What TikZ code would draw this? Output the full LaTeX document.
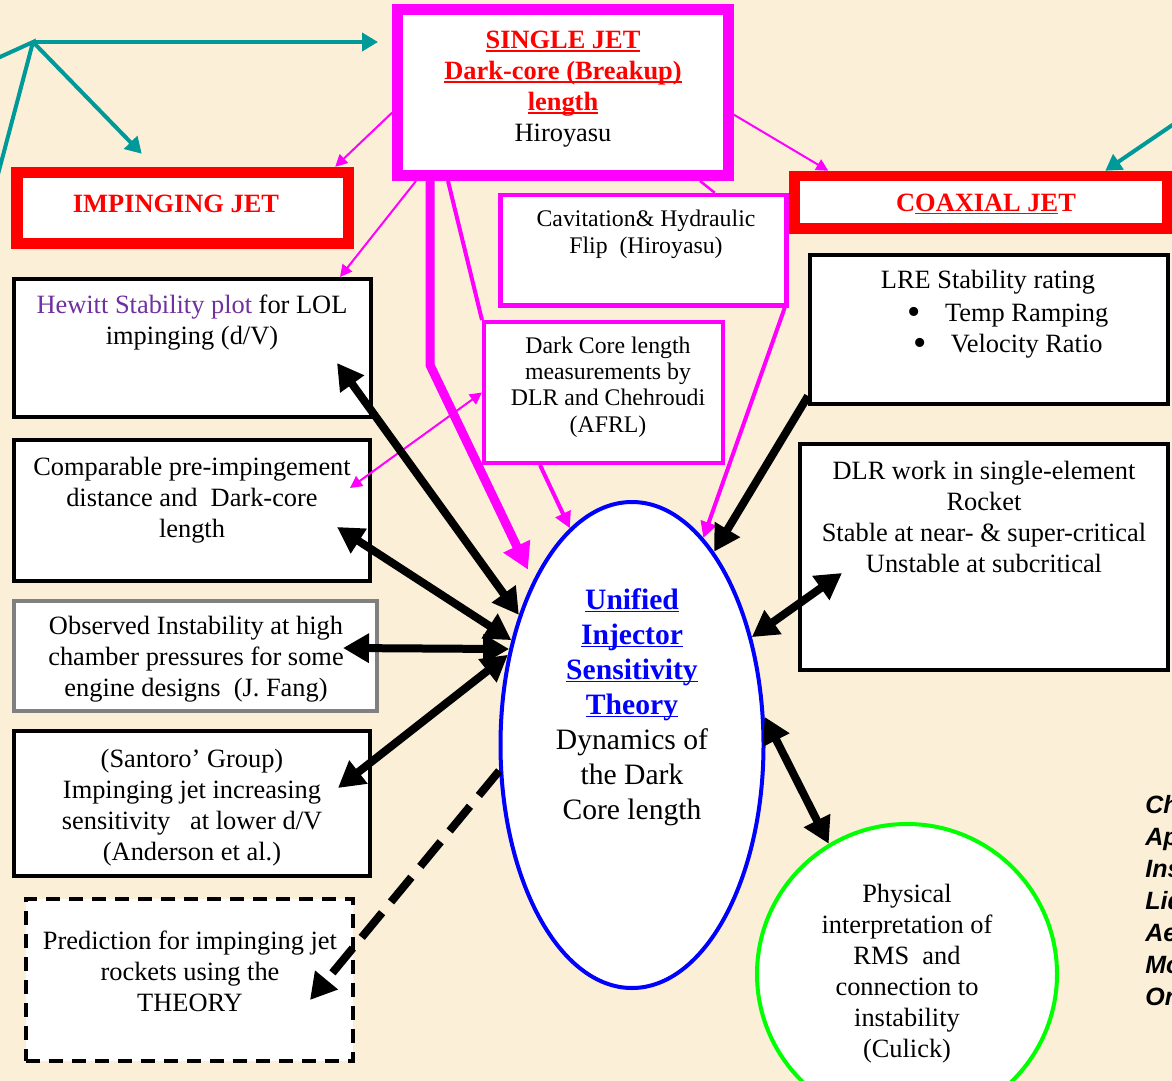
\documentclass[tikz,border=0pt]{standalone}
\usepackage{fontspec}
\setmainfont{Liberation Serif}
\setsansfont{Liberation Sans}
\usetikzlibrary{arrows.meta,shapes.geometric,positioning}

\definecolor{parch}{RGB}{251,240,215}
\definecolor{jetteal}{RGB}{0,153,153}
\definecolor{jetpink}{RGB}{255,0,255}
\definecolor{hewpurple}{RGB}{112,48,160}

% underline at a fixed depth, descenders or not
\newsavebox{\ulbox}
\newcommand{\uln}[1]{\sbox{\ulbox}{#1}\rlap{\rule[-1.6pt]{\wd\ulbox}{0.9pt}}\usebox{\ulbox}}
\newcommand{\theoryword}[1]{\textcolor{blue}{\bfseries\uln{#1}}}
\newcommand{\bigdot}{\smash{\raisebox{-1.6pt}{\fontsize{19}{19}\selectfont\textbullet}}}

\tikzset{
  panel/.style={draw, fill=white, line width=2pt, inner sep=0pt},
  jetpanel/.style={draw=red, fill=white, inner sep=0pt},
  pinkpanel/.style={draw=jetpink, fill=white, line width=2.25pt, inner sep=0pt},
  body/.style={align=center, inner sep=0pt, font=\fontsize{13.2}{15.5}\selectfont},
  small/.style={align=center, inner sep=0pt, font=\fontsize{11.9}{13.2}\selectfont},
  heading/.style={align=center, inner sep=0pt, text=red, font=\fontsize{13.2}{15.5}\selectfont\bfseries},
  twoway/.style={line width=4pt, {Triangle[length=13pt,width=14pt]}-{Triangle[length=13pt,width=14pt]}},
  oneway/.style={line width=4pt, -{Triangle[length=13pt,width=14pt]}},
  thinpink/.style={jetpink, line width=1pt, -{Triangle[length=6pt,width=6pt]}},
  pink/.style={jetpink, line width=2pt, -{Triangle[length=8pt,width=8pt]}},
  tealarrow/.style={jetteal, line width=2pt, -{Triangle[length=8pt,width=9pt]}}
}

\begin{document}
\begin{tikzpicture}[x=0.5pt,y=-0.5pt]
\useasboundingbox (0,0) rectangle (1172,1081);
\clip (0,0) rectangle (1172,1081);
\fill[parch] (0,0) rectangle (1172,1081);

% jet types
\node[pinkpanel, line width=5.5pt, minimum width=165.5pt, minimum height=82.75pt] (single) at (563,92.75) {};
\node[heading] (single-txt) at (563,89.5) {\uln{SINGLE JET}\\\uln{Dark-core (Breakup)}\\\uln{length}\\\textcolor{black}{\mdseries Hiroyasu}};
\node[jetpanel, line width=5.75pt, minimum width=165.75pt, minimum height=35.5pt] (impinging) at (182.75,208) {};
\node[heading] (impinging-txt) at (176,204) {IMPINGING JET};
\node[jetpanel, line width=5.25pt, minimum width=186.25pt, minimum height=26.25pt] (coaxial) at (980.75,202.25) {};
\node[heading] (coaxial-txt) at (986,204) {C\uln{OAXIAL JE}T};

% single jet studies
\node[pinkpanel, minimum width=143pt, minimum height=55.25pt] (cavit) at (643.5,250.25) {};
\node[small] (cavit-txt) at (646,234.5) {Cavitation\& Hydraulic\\Flip\ \ (Hiroyasu)};
\node[pinkpanel, line width=2pt, minimum width=119.5pt, minimum height=70.5pt] (darkcore) at (603.5,392.5) {};
\node[small] (darkcore-txt) at (608,387) {Dark Core length\\measurements by\\DLR and Chehroudi\\(AFRL)};

% impinging jet column
\node[panel, minimum width=178.5pt, minimum height=69pt] (hewitt) at (192.5,348) {};
\node[body] (hewitt-txt) at (192,323) {\textcolor{hewpurple}{Hewitt Stability plot} for LOL\\impinging (d/V)};
\node[panel, minimum width=178pt, minimum height=70.5pt] (compare) at (192,510.5) {};
\node[body] (compare-txt) at (192,500) {Comparable pre-impingement\\distance and\ \ Dark-core\\length};
\node[panel, draw=gray, minimum width=181.5pt, minimum height=55pt] (observed) at (195.5,656) {};
\node[body] (observed-txt) at (196,659.5) {Observed Instability at high\\chamber pressures for some\\engine designs\ \ (J. Fang)};
\node[panel, minimum width=178pt, minimum height=72.5pt] (santoro) at (192,803.5) {};
\node[body] (santoro-txt) at (192,807.5) {(Santoro' Group)\\Impinging jet increasing\\sensitivity\ \ \ at lower d/V\\(Anderson et al.)};
\node[panel, dash pattern=on 7pt off 4.5pt, minimum width=163.5pt, minimum height=81pt] (predict) at (189.5,980) {};
\node[body] (predict-txt) at (190,971) {Prediction for impinging jet\\rockets using the\\THEORY};

% coaxial jet column
\node[panel, minimum width=179pt, minimum height=74.5pt] (lre) at (989,329.5) {};
\node[body] (lre-head) at (988,282.5) {LRE Stability rating};
\node[body] (lre-items) at (1008,331) {\bigdot\hspace{12pt}Temp Ramping\\\bigdot\hspace{12pt}Velocity Ratio};
\node[panel, minimum width=184pt, minimum height=113pt] (dlr) at (984,557) {};
\node[body] (dlr-txt) at (984,516.5) {DLR work in single-element\\Rocket\\Stable at near- \& super-critical\\Unstable at subcritical};

% centre
\node[ellipse, draw=blue, line width=2pt, fill=white, minimum width=131.5pt, minimum height=243pt, inner sep=0pt] (theory) at (632,745) {};
\node[align=center, inner sep=0pt, font=\fontsize{14.8}{17.5}\selectfont] (theory-txt) at (632,707) {\theoryword{Unified}\\\theoryword{Injector}\\\theoryword{Sensitivity}\\\theoryword{Theory}\\Dynamics of\\the Dark\\Core length};
\node[circle, draw=green, line width=2pt, fill=white, minimum size=150pt, body] (physical) at (907,974) {Physical\\interpretation of\\RMS\ \ and\\connection to\\instability\\(Culick)};

\node[anchor=north west, align=left, inner sep=0pt, font=\fontsize{12.5}{16}\selectfont\sffamily\bfseries\itshape] (side) at (1145,795) {Ch\\Ap\\Ins\\Liq\\Ae\\Mo\\Or};

% teal links
\coordinate (hub) at (33,42);
\coordinate (hub-w) at (-22,67);
\coordinate (hub-s) at (-8,197);
\coordinate (ne-in) at (1190,113);
\draw[jetteal, line width=2pt] (hub-w) -- (hub) -- (hub-s);
\draw[tealarrow, shorten >=7pt] (hub) -- (single.west |- hub);
\draw[tealarrow] (hub) -- ([xshift=-20.5pt,yshift=6.5pt]impinging.north);
\draw[tealarrow] (ne-in) -- ([xshift=-33.5pt]coaxial.north east);

% magenta links
\draw[thinpink] ([yshift=-10pt]single.west) -- ([xshift=-9.5pt]impinging.north east);
\draw[thinpink] ([xshift=12pt]single.south west) -- ([xshift=-16.5pt]hewitt.north east);
\draw[thinpink] ([yshift=-11pt]single.east) -- ([xshift=19.5pt]coaxial.north west);
\draw[jetpink, line width=1.25pt] ([xshift=-17pt]single.south east) -- ([xshift=-37pt]cavit.north east);
\draw[jetpink, line width=2pt] ([xshift=28pt]single.south west) -- (darkcore.north west);
\draw[jetpink, line width=4.5pt, -{Triangle[length=13pt,width=14pt]}, shorten >=6pt] ([xshift=19pt]single.south west) -- ++(0,184) -- (theory.121);
\draw[pink] ([xshift=29pt]darkcore.south west) -- (theory.106);
\draw[pink] ([xshift=-2pt]cavit.south east) -- (theory.71);
\draw[thinpink, {Triangle[length=6pt,width=6pt]}-{Triangle[length=6pt,width=6pt]}] (darkcore.west) -- ([xshift=-11pt,yshift=11.25pt]compare.east);

% black links
\draw[twoway] ([xshift=-18pt,yshift=-7.5pt]hewitt.east) -- (theory.131);
\draw[twoway] ([xshift=-17.5pt,yshift=-8.25pt]compare.east) -- (theory.139);
\draw[twoway] ([xshift=-18pt,yshift=4pt]observed.east) -- (theory.142);
\draw[twoway] ([xshift=-17pt,yshift=7.75pt]santoro.east) -- (theory.144);
\draw[oneway, dash pattern=on 16pt off 7pt] (theory.191) -- ([xshift=-22.5pt,yshift=-10pt]predict.east);
\draw[oneway] ([yshift=5pt]lre.south west) -- (theory.67);
\draw[twoway] ([xshift=22pt,yshift=-8pt]dlr.west) -- (theory.42);
\draw[twoway] (theory.12) -- (physical.121);
\end{tikzpicture}
\end{document}
